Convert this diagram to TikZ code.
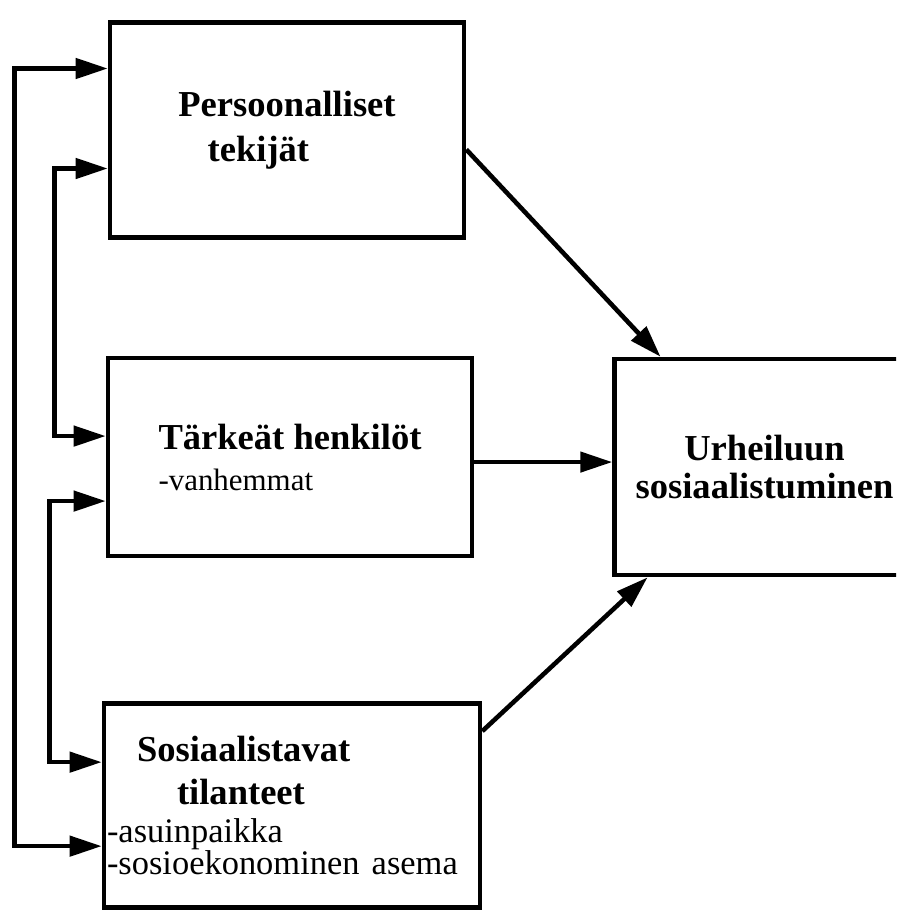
\documentclass[tikz,border=0pt]{standalone}
\usepackage{fontspec}
\setmainfont{Liberation Serif}
\usetikzlibrary{arrows.meta, positioning}

\newcommand{\itemtext}[2]{{\mdseries\fontsize{#1}{21.6}\selectfont #2}}

\begin{document}
\begin{tikzpicture}[
  block/.style = {draw, line width=2.6pt, align=left, font=\fontsize{20.8}{21.6}\selectfont\bfseries},
  line/.style = {line width=2.6pt, -{Triangle[length=0.64cm, width=0.4cm]}},
  twoway/.style = {line width=2.6pt, {Triangle[length=0.64cm, width=0.4cm]}-{Triangle[length=0.64cm, width=0.4cm]}}
]
\useasboundingbox (0,0) rectangle (17.92,-18.42);
\clip (0,0) rectangle (17.92,-18.42);

% Nodes
\node[block, minimum width=7.08cm, minimum height=4.3cm] (persons) at (5.74,-2.6)
  {Persoonalliset\\[0.14cm]\hspace*{0.8em}tekijät};
\node[block, minimum width=7.28cm, minimum height=3.96cm, below=2.32cm of persons, xshift=0.06cm] (important)
  {Tärkeät henkilöt\\[0.06cm]\itemtext{17.6}{-vanhemmat}};
\node[block, text width=7.4cm, inner xsep=0.06cm, minimum height=4.08cm, below=2.86cm of important, xshift=0.04cm] (situations)
  {\hspace*{0.6cm}Sosiaalistavat\\[0.1cm]\hspace*{1.4cm}tilanteet\\\itemtext{19.6}{-asuinpaikka}\\[-0.12cm]\itemtext{19.6}{-sosioekonominen asema}};
\node[block, align=center, minimum width=6cm, minimum height=4.32cm, right=2.76cm of important, yshift=-0.2cm] (result)
  {Urheiluun\\sosiaalistuminen};

% Connections to the result
\draw[line] ([yshift=-0.39cm]persons.east) -- ([xshift=-2.08cm]result.north);
\draw[line] ([yshift=-0.1cm]important.east) coordinate (mid) -- (mid -| result.west);
\draw[line] ([yshift=1.49cm]situations.east) -- ([xshift=-2.34cm]result.south);

% Links on the left side
\draw[twoway] ([yshift=1.23cm]persons.west) -- ++(-1.86,0) |- ([yshift=-0.81cm]situations.west);
\draw[twoway] ([yshift=-0.77cm]persons.west) -- ++(-1.06,0) |- ([yshift=0.42cm]important.west);
\draw[twoway] ([yshift=-0.88cm]important.west) -- ++(-1.12,0) |- ([yshift=0.87cm]situations.west);

\end{tikzpicture}
\end{document}
